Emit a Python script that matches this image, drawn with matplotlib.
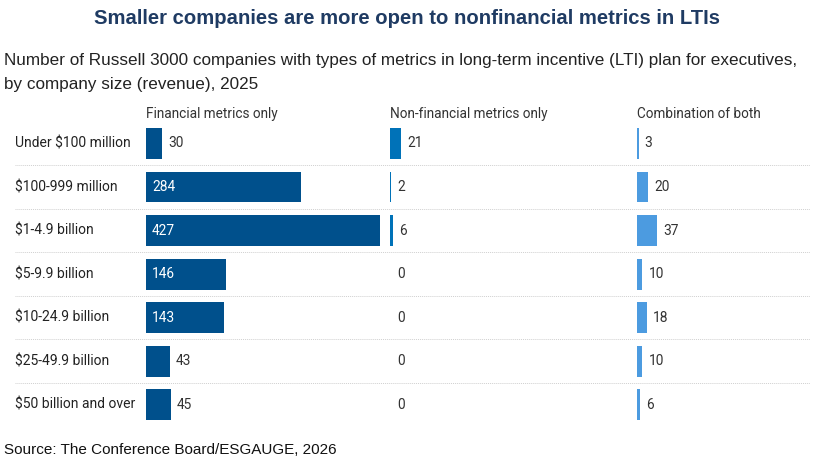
import matplotlib
matplotlib.use("Agg")
import matplotlib.pyplot as plt
from matplotlib.lines import Line2D

categories = ["Under $100 million", "$100-999 million", "$1-4.9 billion",
              "$5-9.9 billion", "$10-24.9 billion", "$25-49.9 billion",
              "$50 billion and over"]
financial = [30, 284, 427, 146, 143, 43, 45]
nonfinancial = [21, 2, 6, 0, 0, 0, 0]
combination = [3, 20, 37, 10, 18, 10, 6]
series_names = ["Financial metrics only", "Non-financial metrics only", "Combination of both"]
colors = ["#00508C", "#0072B8", "#4C9BE0"]

W, H = 815, 463
fig = plt.figure(figsize=(W / 100, H / 100), dpi=100)

def fx(px):
    return px / W

def fy(py):
    return 1 - py / H

# layout (pixels)
panel_left = [146, 390, 637]
panel_w = 244
xmax = 446
top_px, bot_px = 121.7, 426.5
n = len(categories)

TITLE_FONT = ["Liberation Sans", "DejaVu Sans"]
BODY_FONT = ["Roboto", "DejaVu Sans"]

fig.text(0.5, fy(18), "Smaller companies are more open to nonfinancial metrics in LTIs",
         ha="center", va="center", fontsize=14.6, fontweight="bold",
         color="#1F3B63", family=TITLE_FONT)
fig.text(fx(4), fy(60), "Number of Russell 3000 companies with types of metrics in long-term incentive (LTI) plan for executives,",
         ha="left", va="center", fontsize=12.35, color="#222222", family=TITLE_FONT)
fig.text(fx(4), fy(84), "by company size (revenue), 2025",
         ha="left", va="center", fontsize=12.35, color="#222222", family=TITLE_FONT)
fig.text(fx(4), fy(450), "Source: The Conference Board/ESGAUGE, 2026",
         ha="left", va="center", fontsize=11, color="#111111", family=TITLE_FONT)

all_series = [financial, nonfinancial, combination]
for k, (vals, name, col) in enumerate(zip(all_series, series_names, colors)):
    ax = fig.add_axes([fx(panel_left[k]), fy(bot_px), fx(panel_w), (bot_px - top_px) / H])
    ax.set_xlim(0, xmax)
    ax.set_ylim(n - 0.5, -0.5)
    ax.axis("off")
    ax.barh(range(n), vals, height=0.71, color=col, edgecolor="none")
    px_per_unit = panel_w / xmax
    for i, v in enumerate(vals):
        bar_px = v * px_per_unit
        if bar_px > 45:
            ax.annotate(str(v), (0, i), xytext=(6, 0), textcoords="offset pixels",
                        ha="left", va="center", fontsize=9.9, color="white", family=BODY_FONT)
        else:
            ax.annotate(str(v), (v, i), xytext=(6 if v > 0 else 7, 0), textcoords="offset pixels",
                        ha="left", va="center", fontsize=9.9, color="#333333", family=BODY_FONT)
    fig.text(fx(panel_left[k]), fy(114), name, ha="left", va="center",
             fontsize=9.8, color="#333333", family=BODY_FONT)

# category labels
row_h = (bot_px - top_px) / n
for i, c in enumerate(categories):
    yc = top_px + row_h * (i + 0.5)
    fig.text(fx(15), fy(yc), c, ha="left", va="center", fontsize=10,
             color="#222222", family=BODY_FONT)
    if i < n - 1:
        yb = top_px + row_h * (i + 1)
        fig.add_artist(Line2D([fx(15), fx(810)], [fy(yb), fy(yb)], transform=fig.transFigure,
                              color="#d0d0d0", linewidth=0.7, linestyle=(0, (1, 1))))

fig.savefig("out.png", dpi=100)
